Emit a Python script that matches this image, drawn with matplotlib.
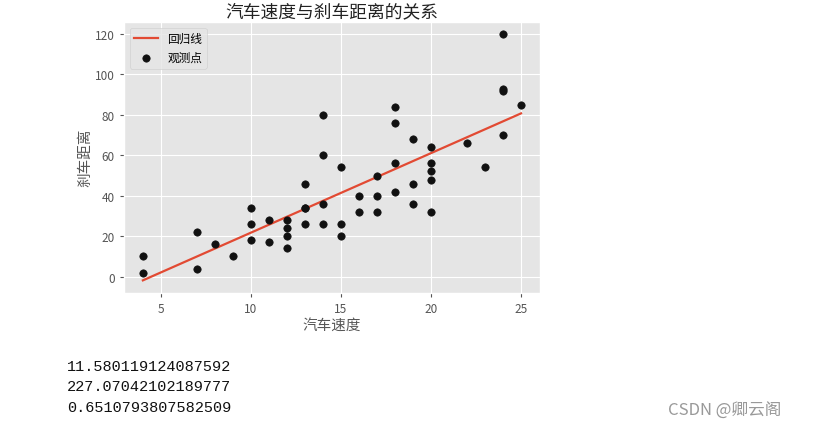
import numpy as np
import matplotlib
matplotlib.use("Agg")
import matplotlib.pyplot as plt

plt.style.use("ggplot")
plt.rcParams["font.family"] = ["Noto Sans CJK SC", "DejaVu Sans"]
plt.rcParams["axes.unicode_minus"] = False

# cars data: speed vs stopping distance
speed = [4, 4, 7, 7, 8, 9, 10, 10, 10, 11, 11, 12, 12, 12, 12, 13, 13, 13, 13,
         14, 14, 14, 14, 15, 15, 15, 16, 16, 17, 17, 17, 18, 18, 18, 18, 19, 19,
         19, 20, 20, 20, 20, 20, 22, 23, 24, 24, 24, 24, 25]
dist = [2, 10, 4, 22, 16, 10, 18, 26, 34, 17, 28, 14, 20, 24, 28, 26, 34, 34, 46,
        26, 36, 60, 80, 20, 26, 54, 32, 40, 32, 40, 50, 42, 56, 76, 84, 36, 46,
        68, 32, 48, 52, 56, 64, 66, 54, 70, 92, 93, 120, 85]
printed = ["11.580119124087592", "227.07042102189777", "0.6510793807582509"]

x = np.array(speed)
y = np.array(dist)
slope, intercept = np.polyfit(x, y, 1)
line_x = np.array([x.min(), x.max()])

fig = plt.figure(figsize=(8.14, 4.31), dpi=100)
ax = fig.add_axes([0.1523, 0.3186, 0.511, 0.6288])

ax.plot(line_x, intercept + slope * line_x, color="#E24A33", lw=1.6, label="回归线")
ax.scatter(x, y, color="#111111", s=28, zorder=3, label="观测点")

ax.set_title("汽车速度与刹车距离的关系", fontsize=12.8, color="#222222", pad=4)
ax.set_xlabel("汽车速度", fontsize=10.5, color="#555555", labelpad=2)
ax.set_ylabel("刹车距离", fontsize=10.5, color="#555555", labelpad=2)
ax.set_xticks([5, 10, 15, 20, 25])
ax.set_yticks([0, 20, 40, 60, 80, 100, 120])
ax.tick_params(labelsize=8.5, colors="#555555", length=3)
ax.legend(loc="upper left", fontsize=8.4)

# printed console output under the chart
for i, s in enumerate(printed):
    fig.text(67 / 814, 1 - (367 + 20.5 * i) / 431, s, family="Liberation Mono",
             fontsize=11, va="center", ha="left", color="#111111")
fig.text(668 / 814, 1 - 411 / 431, "CSDN @卿云阁", fontsize=12,
         va="center", ha="left", color="#999999")

fig.savefig("out.png", dpi=100)
